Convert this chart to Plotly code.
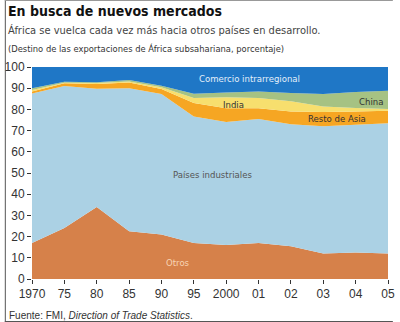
import plotly.graph_objects as go

# Destination of Sub-Saharan Africa's exports, percent of total
years = ["1970", "75", "80", "85", "90", "95", "2000", "01", "02", "03", "04", "05"]
otros = [17, 24, 34, 22.5, 21, 17, 16, 17, 15.5, 12, 12.5, 12]
paises_industriales = [70.5, 67, 55.7, 67.5, 66.3, 59.7, 58, 58.5, 57.5, 60, 60.3, 61.5]
resto_asia = [1, 1.3, 2.3, 2.7, 2.3, 6.3, 6.5, 5.1, 6, 6.8, 6.2, 5.9]
india = [0.7, 0.3, 0.4, 0.5, 0.8, 2.4, 5.2, 4.8, 4.8, 2.6, 1.7, 0.8]
china = [0.8, 0.4, 0.4, 0.7, 0.8, 2, 2.3, 3.1, 3.9, 5.9, 7.5, 8.6]
intrarregional = [10, 7, 7.2, 6.1, 8.8, 12.6, 12, 11.5, 12.3, 12.7, 11.8, 11.2]

W, H = 400, 322
L, R, T, B = 28, 5, 67, 43
PW, PH = W - L - R, H - T - B


def px(x):
    return (x - L) / PW


def py(y):
    return (H - B - y) / PH


series = [
    ("Otros", otros, "#d6814a"),
    ("Países industriales", paises_industriales, "#abd1e4"),
    ("Resto de Asia", resto_asia, "#f6a623"),
    ("India", india, "#f7df6e"),
    ("China", china, "#a6c283"),
    ("Comercio intrarregional", intrarregional, "#1f77c6"),
]

fig = go.Figure()
for name, vals, color in series:
    fig.add_trace(go.Scatter(
        x=years, y=vals, name=name, stackgroup="one",
        mode="lines", line=dict(width=0, color=color),
        fillcolor=color, hoverinfo="skip",
    ))

narrow = "DejaVu Sans Condensed, Liberation Sans Narrow, Arial Narrow, sans-serif"
sans = "Liberation Sans, Arial, sans-serif"

annotations = [
    dict(x=px(1), y=py(11), text="<b>En busca de nuevos mercados</b>",
         font=dict(family=narrow, size=14, color="#111")),
    dict(x=px(1), y=py(30), text="África se vuelca cada vez más hacia otros países en desarrollo.",
         font=dict(family=narrow, size=11, color="#444")),
    dict(x=px(1), y=py(48), text="(Destino de las exportaciones de África subsahariana, porcentaje)",
         font=dict(family=narrow, size=9.3, color="#333")),
    dict(x=px(2), y=py(315), text="Fuente: FMI, <i>Direction of Trade Statistics</i>.",
         font=dict(family=sans, size=10, color="#333")),
]
for a in annotations:
    a.update(xref="paper", yref="paper", xanchor="left", yanchor="middle",
             showarrow=False)

inner = [
    ("Comercio intrarregional", 252, 78, "#e4effa"),
    ("India", 236, 104, "#333"),
    ("China", 377, 101, "#333"),
    ("Resto de Asia", 342, 119, "#333"),
    ("Países industriales", 214, 174, "#555"),
    ("Otros", 178, 262, "#f8d4b4"),
]
for text, x, y, c in inner:
    annotations.append(dict(
        xref="paper", yref="paper", x=px(x), y=py(y), text=text,
        showarrow=False, xanchor="center", yanchor="middle",
        font=dict(family=narrow, size=9.5, color=c)))

shapes = [
    dict(type="line", xref="paper", yref="paper", x0=px(0.5), x1=px(0.5),
         y0=py(0), y1=py(H), line=dict(color="#555", width=1)),
    dict(type="line", xref="paper", yref="paper", x0=px(0), x1=px(W),
         y0=py(0.5), y1=py(0.5), line=dict(color="#999", width=1)),
    dict(type="line", xref="paper", yref="paper", x0=px(0), x1=px(W),
         y0=py(H - 0.5), y1=py(H - 0.5), line=dict(color="#555", width=1)),
]

fig.update_layout(
    width=W, height=H,
    margin=dict(l=L, r=R, t=T, b=B),
    paper_bgcolor="white", plot_bgcolor="white",
    showlegend=False,
    annotations=annotations, shapes=shapes,
    xaxis=dict(type="category", range=[0, len(years) - 1], showgrid=False,
               ticks="outside", ticklen=4, tickcolor="#333", showline=False,
               tickfont=dict(family=sans, size=12, color="#333"), zeroline=False),
    yaxis=dict(range=[0, 100], dtick=10, showgrid=False, ticks="outside",
               ticklen=4, tickcolor="#333", showline=False, zeroline=False,
               tickfont=dict(family=sans, size=12, color="#333")),
)

fig.write_html("out.html")
